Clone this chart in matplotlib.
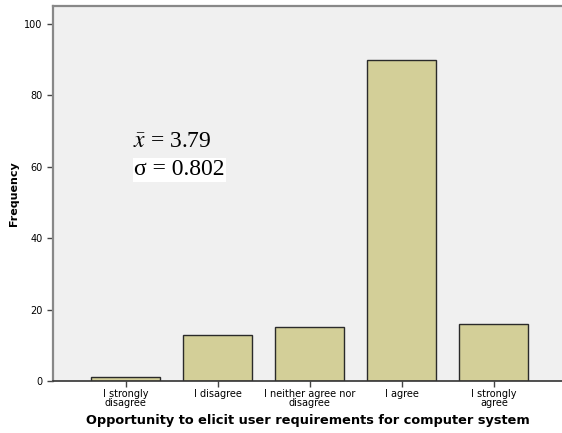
import matplotlib
matplotlib.use("Agg")
from matplotlib import pyplot as plt

categorias = ["I strongly\ndisagree", "I disagree", "I neither agree nor\ndisagree",
              "I agree", "I strongly\nagree"]
frequencias = [1, 13, 15, 90, 16]
yticks = [0, 20, 40, 60, 80, 100]

plt.rcParams["mathtext.fontset"] = "stix"

fig = plt.figure(figsize=(5.62, 4.33), dpi=100)
ax = fig.add_axes([0.0943, 0.120, 0.9057, 0.866])
ax.set_facecolor("#f0f0f0")

pos = list(range(len(categorias)))
ax.bar(pos, frequencias, width=0.75, color="#d3cf98", edgecolor="#2a2a2a", linewidth=1.0, zorder=2)

ax.set_xlim(-0.79, 4.74)
ax.set_ylim(0, 105)
ax.set_yticks(yticks)
ax.set_xticks(pos)
ax.set_xticklabels(categorias, fontsize=7, linespacing=0.85)
ax.tick_params(axis="y", labelsize=7, length=4, width=1, color="#444444")
ax.tick_params(axis="x", length=4, width=1, color="#444444", pad=2)

for lado in ["top", "left"]:
    ax.spines[lado].set_color("#888888")
    ax.spines[lado].set_linewidth(1.6)
ax.spines["bottom"].set_color("#333333")
ax.spines["bottom"].set_linewidth(1.2)
ax.spines["right"].set_visible(False)

ax.set_ylabel("Frequency", fontsize=8, fontweight="bold", labelpad=4)
ax.set_xlabel("Opportunity to elicit user requirements for computer system",
              fontsize=9.3, fontweight="bold", labelpad=4)

ax.text(0.158, 0.61, r"$\bar{\mathit{x}}$ = 3.79", transform=ax.transAxes,
        fontsize=17, family="Liberation Serif", va="bottom", ha="left")
ax.text(0.16, 0.535, "σ = 0.802", transform=ax.transAxes, fontsize=17,
        family="Liberation Serif", va="bottom", ha="left",
        bbox=dict(facecolor="white", edgecolor="none", pad=1))

fig.savefig("out.png", dpi=100)
